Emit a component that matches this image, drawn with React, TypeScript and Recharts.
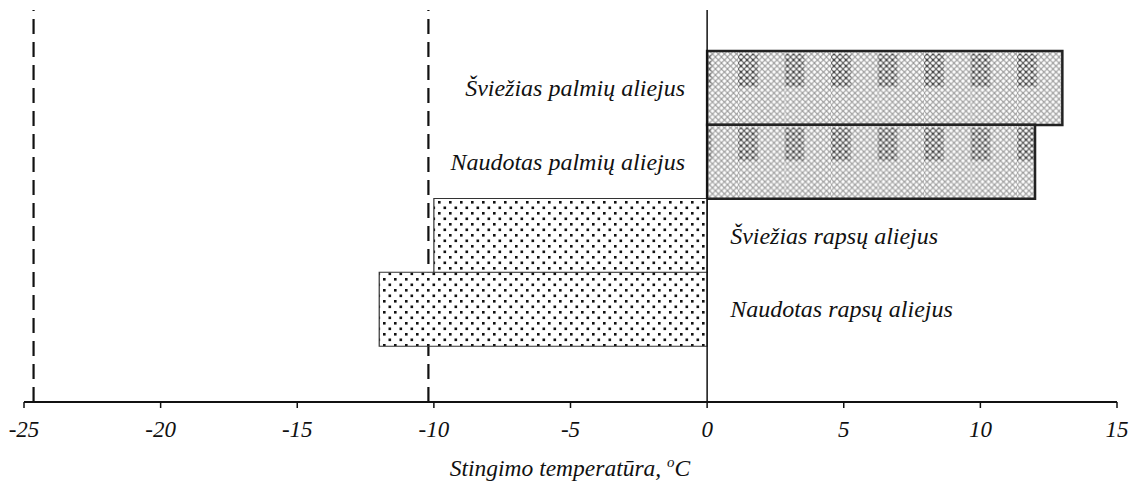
import React from 'react';
import { BarChart, Bar, XAxis, YAxis, Cell, LabelList, ReferenceLine } from 'recharts';

const oils = [
  'Šviežias palmių aliejus',
  'Naudotas palmių aliejus',
  'Šviežias rapsų aliejus',
  'Naudotas rapsų aliejus',
];
const pourPoints = [13, 12, -10, -12];
const limitLines = [-24.65, -10.2];
const xTicks = [-25, -20, -15, -10, -5, 0, 5, 10, 15];

const data = oils.map((name, i) => ({ name, value: pourPoints[i] }));

const FONT = '"Liberation Serif", "Times New Roman", serif';

const OilLabel = (props: any) => {
  const { x, y, width, height, value } = props;
  const left = Math.min(x, x + width);
  const right = Math.max(x, x + width);
  const zero = value >= 0 ? left : right;
  const cy = y + height / 2;
  return (
    <text
      x={value >= 0 ? zero - 22 : zero + 23}
      y={cy}
      textAnchor={value >= 0 ? 'end' : 'start'}
      dominantBaseline="central"
      fontFamily={FONT}
      fontStyle="italic"
      fontSize={24}
      fill="#111"
    >
      {props.name}
    </text>
  );
};

const AxisTitle = () => {
  return (
    <text x={570} y={476} textAnchor="middle" fontFamily={FONT} fontStyle="italic" fontSize={23.5} fill="#111">
      Stingimo temperatūra,{' '}
      <tspan fontSize={15} dy={-9}>o</tspan>
      <tspan dy={9}>C</tspan>
    </text>
  );
};

export default function App() {
  return (
    <div style={{ position: 'absolute', left: 0, top: 0, background: '#fff' }}>
      <BarChart
        width={1139}
        height={486}
        data={data}
        layout="vertical"
        barCategoryGap={0}
        margin={{ top: 10, right: 22, left: 24, bottom: 0 }}
      >
        <defs>
          <pattern id="dots" patternUnits="userSpaceOnUse" x="437" y="200" width="11" height="11">
            <rect width="11" height="11" fill="#fff" />
            <rect x="1" y="1" width="2.6" height="2.6" fill="#111" />
            <rect x="6.5" y="6.5" width="2.6" height="2.6" fill="#111" />
          </pattern>
          <pattern id="hatch" patternUnits="userSpaceOnUse" width="6" height="6">
            <rect width="6" height="6" fill="#fff" />
            <path d="M0,0 L6,6 M6,0 L0,6" stroke="#8a8a8a" strokeWidth="1" />
          </pattern>
          <pattern id="hatchDark" patternUnits="userSpaceOnUse" width="6" height="6">
            <rect width="6" height="6" fill="#fff" />
            <path d="M0,0 L6,6 M6,0 L0,6" stroke="#555" strokeWidth="1.1" />
            <rect x="2" y="2" width="2" height="2" fill="#333" />
          </pattern>
          <pattern id="palm" patternUnits="userSpaceOnUse" x="738" y="51" width="46.5" height="73.75">
            <rect width="46.5" height="73.75" fill="url(#hatch)" />
            <rect x="0" y="3" width="20" height="33" fill="url(#hatchDark)" />
          </pattern>
        </defs>
        <XAxis
          type="number"
          dataKey="value"
          domain={[-25, 15]}
          ticks={xTicks}
          interval={0}
          height={84}
          axisLine={{ stroke: '#111', strokeWidth: 2 }}
          tickLine={{ stroke: '#111', strokeWidth: 1.5 }}
          tickSize={6}
          tick={{ fontFamily: FONT, fontStyle: 'italic', fontSize: 23, fill: '#111', dy: 11 }}
          label={<AxisTitle />}
        />
        <YAxis type="category" dataKey="name" hide padding={{ top: 41, bottom: 56 }} />
        {limitLines.map((v) => (
          // @ts-ignore zIndex exists in newer recharts 3
          <ReferenceLine key={v} x={v} stroke="#111" strokeWidth={2.2} strokeDasharray="15 8" zIndex={-10} />
        ))}
        <Bar dataKey="value" isAnimationActive={false}>
          {data.map((d) => (
            <Cell
              key={d.name}
              fill={d.value >= 0 ? 'url(#palm)' : 'url(#dots)'}
              stroke={d.value >= 0 ? '#222' : '#333'}
              strokeWidth={d.value >= 0 ? 2.5 : 1.2}
            />
          ))}
          <LabelList dataKey="value" content={(p: any) => <OilLabel {...p} name={data[p.index]?.name} />} />
        </Bar>
        <ReferenceLine x={0} stroke="#111" strokeWidth={1.5} />
      </BarChart>
    </div>
  );
}
